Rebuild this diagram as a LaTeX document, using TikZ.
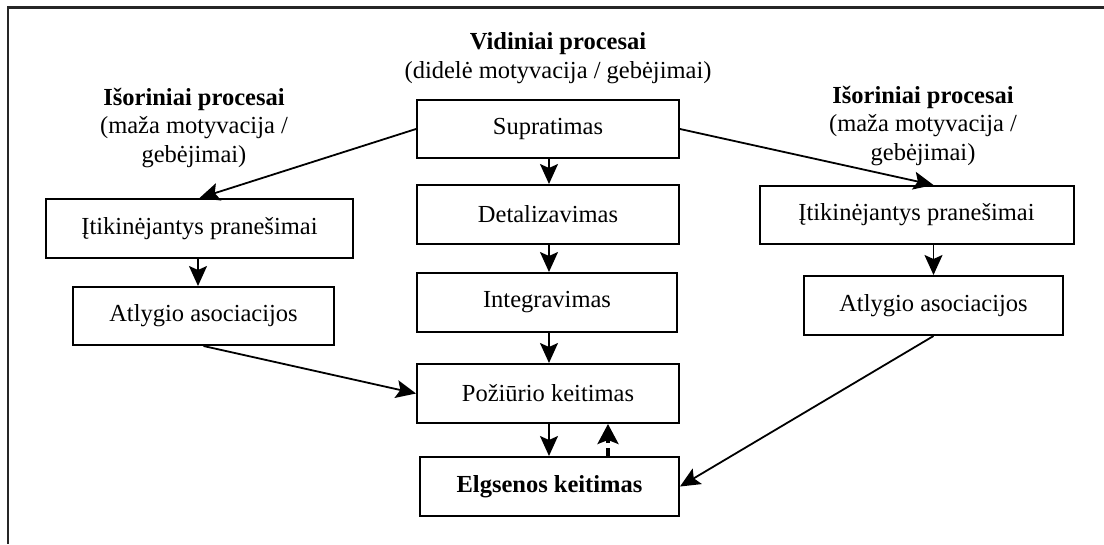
\documentclass[tikz,border=0pt]{standalone}
\usepackage{fontspec}
\setmainfont{Liberation Serif}
\usetikzlibrary{arrows.meta}
\begin{document}
\begin{tikzpicture}[x=1pt,y=-1pt,
  txt/.style={font=\fontsize{24.5}{28.5}\selectfont},
  stage/.style={draw, line width=2pt, txt, inner sep=0pt, anchor=center},
  heading/.style={txt, align=center, inner sep=0pt},
  arr/.style={line width=1.8pt, -{Stealth[length=20pt,width=18pt,inset=4pt]}},
  backarr/.style={line width=3.2pt, dash pattern=on 8pt off 5pt,
    -{Stealth[length=20pt,width=21pt,inset=4pt]}},
  frame/.style={line width=2.2pt, black!85}]
\useasboundingbox (0,0) rectangle (1104,544);
% outer frame (top and left edges)
\draw[frame] (1104,7.5) -- (8,7.5) -- (8,544);

% headings
\node[heading] (vidh) at (558,58) {\textbf{Vidiniai procesai}\\(didelė motyvacija / gebėjimai)};
\node[heading] (lefth) at (194,128) {\textbf{Išoriniai procesai}\\(maža motyvacija /\\gebėjimai)};
\node[heading] (righth) at (923,126) {\textbf{Išoriniai procesai}\\(maža motyvacija /\\gebėjimai)};

% central chain
\node[stage, minimum width=262pt, minimum height=58pt] (sup) at (548,129) {Supratimas};
\node[stage, minimum width=262pt, minimum height=59pt] (det) at (548,214.5) {Detalizavimas};
\node[stage, minimum width=260pt, minimum height=59pt] (integ) at (547,302.5) {Integravimas};
\node[stage, minimum width=262pt, minimum height=59pt] (poz) at (548,393.5) {Požiūrio keitimas};
\node[stage, minimum width=259pt, minimum height=59pt] (elg) at (549.5,486.5) {\textbf{Elgsenos keitimas}};

% left branch
\node[stage, minimum width=307pt, minimum height=59pt] (litik) at (199.5,228.5) {Įtikinėjantys pranešimai};
\node[stage, minimum width=261pt, minimum height=58pt] (latl) at (203.5,316) {Atlygio asociacijos};

% right branch
\node[stage, minimum width=314pt, minimum height=58pt] (ritik) at (916.5,215) {Įtikinėjantys pranešimai};
\node[stage, minimum width=259pt, minimum height=59pt] (ratl) at (933.5,305.5) {Atlygio asociacijos};

% connectors
\draw[arr] (sup.south -| 549,0) -- (det.north -| 549,0);
\draw[arr] (det.south -| 549,0) -- (integ.north -| 549,0);
\draw[arr] (integ.south -| 549,0) -- (poz.north -| 549,0);
\draw[arr] (poz.south -| 549,0) -- (elg.north -| 549,0);
\draw[backarr] (elg.north -| 608,0) -- (poz.south -| 608,0);

\draw[arr] (sup.west) -- (litik.north);
\draw[arr] (sup.east) -- (ratl.north |- ritik.north);
\draw[arr] (litik.south -| 198,0) -- (latl.north -| 198,0);
\draw[arr] (ratl.north |- ritik.south) -- (ratl.north);
\draw[arr] (latl.south) -- (poz.west);
\draw[arr] (ratl.south) -- (elg.east);
\end{tikzpicture}
\end{document}
